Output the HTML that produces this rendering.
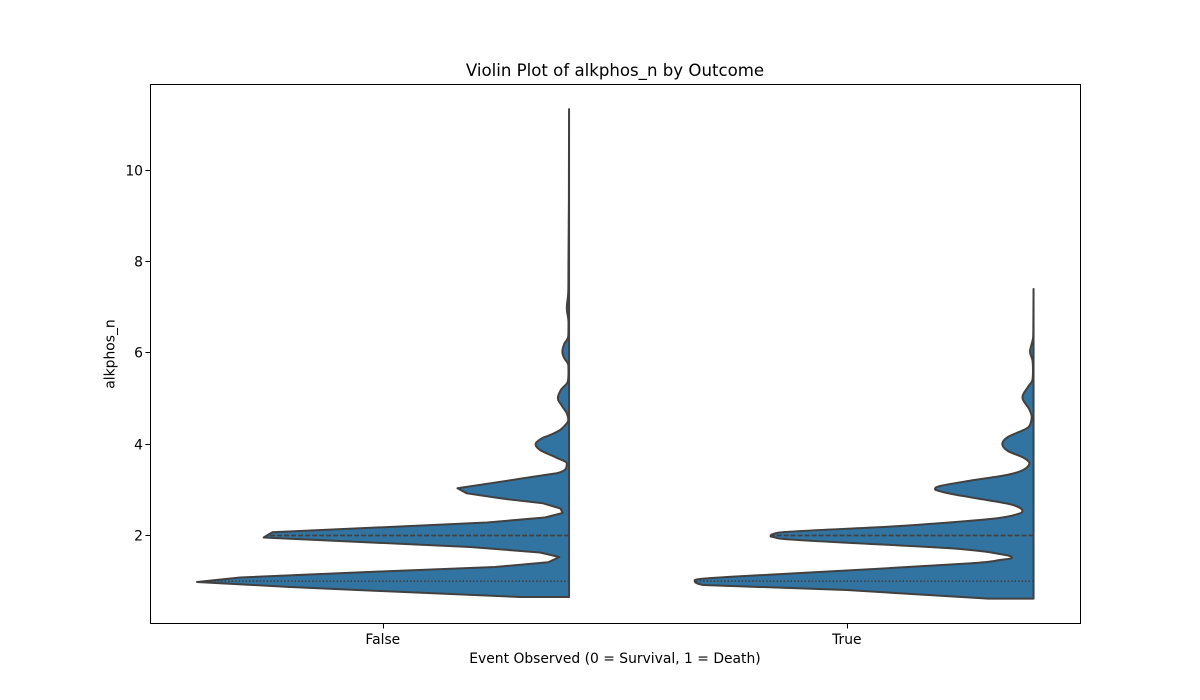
<!DOCTYPE html>
<html>
<head>
<meta charset="utf-8">
<title>Violin Plot of alkphos_n by Outcome</title>
<style>
html,body{margin:0;padding:0;background:#fff;}
svg{display:block;}
text{font-family:"DejaVu Sans","Liberation Sans",sans-serif;fill:#000;}
</style>
</head>
<body>
<svg id="chart" xmlns="http://www.w3.org/2000/svg" width="1200" height="700" viewBox="0 0 1200 700">
  <rect x="0" y="0" width="1200" height="700" fill="#fff"/>
  <g id="violins"></g>
  <g id="axes"></g>
  <text x="615" y="76" font-size="16.6" text-anchor="middle">Violin Plot of alkphos_n by Outcome</text>
  <text x="615" y="663" font-size="13.89" text-anchor="middle">Event Observed (0 = Survival, 1 = Death)</text>
  <text x="0" y="0" font-size="13.89" text-anchor="middle" transform="translate(114.5,354) rotate(-90)">alkphos_n</text>
</svg>
<script>
const categories = ["False", "True"];
const yTicks = [2, 4, 6, 8, 10];

const falseValues = [0.653,0.653,0.784,0.872,0.981,1.08,1.211,1.31,1.413,1.529,1.628,1.748,1.956,2.07,2.285,2.394,2.493,2.591,2.705,2.815,2.924,3.034,3.143,3.275,3.363,3.472,3.582,3.709,3.873,4.004,4.129,4.2,4.311,4.458,4.53,4.677,4.837,5.005,5.187,5.369,5.56,5.735,5.888,6.026,6.195,6.37,6.677,6.984,7.356,8.035,9.35,11.34];
const falseDensity = [0,0.132,0.508,0.75,1,0.884,0.508,0.199,0.056,0.026,0.078,0.266,0.821,0.798,0.22,0.065,0.017,0.023,0.07,0.185,0.275,0.3,0.212,0.105,0.033,0.008,0.006,0.035,0.078,0.09,0.073,0.051,0.024,0.006,0.002,0.006,0.019,0.03,0.022,0.0035,0.0015,0.002,0.013,0.018,0.013,0.002,0.0015,0.006,0.002,0.0015,0.0004,0];
const falseQuartiles = [1.0, 2.0];

const trueValues = [0.616,0.616,0.806,0.916,1.014,1.09,1.233,1.39,1.463,1.512,1.587,1.72,1.939,1.989,2.061,2.208,2.361,2.464,2.543,2.668,2.778,2.903,2.981,3.019,3.084,3.2,3.325,3.435,3.582,3.709,3.851,4.004,4.158,4.348,4.486,4.602,4.771,5.027,5.253,5.406,5.625,5.845,6.03,6.35,6.61,7.4];
const trueDensity = [0,0.1215,0.502,0.888,0.911,0.824,0.502,0.171,0.09,0.058,0.085,0.224,0.687,0.707,0.687,0.359,0.117,0.045,0.03,0.055,0.126,0.216,0.257,0.265,0.251,0.171,0.072,0.028,0.011,0.028,0.069,0.084,0.069,0.018,0.007,0.005,0.012,0.03,0.015,0.003,0.0015,0.003,0.0095,0.001,0.0005,0];
const trueQuartiles = [1.0, 2.0];

const violinSeries = [
  {values: falseValues, density: falseDensity, quartiles: falseQuartiles, smoothFrom: 3.3},
  {values: trueValues, density: trueDensity, quartiles: trueQuartiles, smoothFrom: 0.9}
];

const NS = "http://www.w3.org/2000/svg";
const plot = {left: 151, right: 1080, top: 84.5, bottom: 623.5};
const yDomain = [0.072, 11.88];
const splitOffset = 0.4;
const densityToPx = 372;
const edgeColor = "#414141";

function xScale(position) {
  return plot.left + (position + 0.5) / categories.length * (plot.right - plot.left);
}
function yScale(value) {
  return plot.bottom - (value - yDomain[0]) / (yDomain[1] - yDomain[0]) * (plot.bottom - plot.top);
}
function widthScale(density) {
  return density * densityToPx;
}
function densityAt(series, value) {
  const v = series.values, d = series.density;
  for (let i = 1; i < v.length; i++) {
    if (value >= v[i - 1] && value <= v[i] && v[i] > v[i - 1]) {
      return d[i - 1] + (d[i] - d[i - 1]) * (value - v[i - 1]) / (v[i] - v[i - 1]);
    }
  }
  return 0;
}
function tangentX(prev, cur, next) {
  if ((cur[0] - prev[0]) * (next[0] - cur[0]) <= 0) return 0;
  const a = cur[0] - prev[0], b = next[0] - cur[0];
  const t = (next[0] - prev[0]) / 6;
  const limit = Math.min(Math.abs(a), Math.abs(b));
  return Math.sign(t) * Math.min(Math.abs(t), limit);
}
function outlinePath(series, centerX) {
  const pts = series.values.map((v, i) => [centerX - widthScale(series.density[i]), yScale(v), v]);
  let path = "M" + pts[0][0].toFixed(2) + " " + pts[0][1].toFixed(2);
  for (let i = 1; i < pts.length; i++) {
    const p1 = pts[i - 1], p2 = pts[i];
    if (i >= 2 && p1[2] >= series.smoothFrom && i < pts.length - 1) {
      const p0 = pts[i - 2], p3 = pts[i + 1];
      const c1x = p1[0] + tangentX(p0, p1, p2), c1y = p1[1] + (p2[1] - p0[1]) / 6;
      const c2x = p2[0] - tangentX(p1, p2, p3), c2y = p2[1] - (p3[1] - p1[1]) / 6;
      path += "C" + c1x.toFixed(2) + " " + c1y.toFixed(2) + " " + c2x.toFixed(2) + " " + c2y.toFixed(2) + " " + p2[0].toFixed(2) + " " + p2[1].toFixed(2);
    } else {
      path += "L" + p2[0].toFixed(2) + " " + p2[1].toFixed(2);
    }
  }
  return path + "Z";
}
function make(tag, attrs, parent) {
  const el = document.createElementNS(NS, tag);
  for (const k in attrs) el.setAttribute(k, attrs[k]);
  parent.appendChild(el);
  return el;
}

const violinLayer = document.getElementById("violins");
violinSeries.forEach((series, idx) => {
  const centerX = xScale(idx + splitOffset);
  const body = make("path", {
    d: outlinePath(series, centerX),
    fill: "#3274a1",
    stroke: edgeColor,
    "stroke-width": 2,
    "stroke-linejoin": "round"
  }, violinLayer);
  
  

  series.quartiles.forEach((q, qi) => {
    const line = make("line", {
      x1: centerX,
      x2: centerX - widthScale(densityAt(series, q)),
      y1: yScale(q),
      y2: yScale(q),
      stroke: edgeColor,
      "stroke-width": 1.7,
      "stroke-dasharray": qi === 1 ? "4.9 2.1" : "1.4 2.1"
    }, violinLayer);
    
    
  });
});

const axesLayer = document.getElementById("axes");
const frame = make("rect", {
  x: plot.left - 0.5,
  y: plot.top,
  width: plot.right - plot.left + 1,
  height: plot.bottom - plot.top,
  fill: "none",
  stroke: "#000",
  "stroke-width": 1
}, axesLayer);



yTicks.forEach(t => {
  const y = Math.round(yScale(t) - 0.5) + 0.5;
  const mark = make("line", {x1: plot.left - 5.5, x2: plot.left - 0.5, y1: y, y2: y, stroke: "#000", "stroke-width": 1}, axesLayer);
  
  
  const label = make("text", {x: plot.left - 8, y: y + 5, "font-size": 13.89, "text-anchor": "end"}, axesLayer);
  label.textContent = String(t);
  
  
});

categories.forEach((c, i) => {
  const x = Math.round(xScale(i) - 0.5) + 0.5;
  const mark = make("line", {x1: x, x2: x, y1: plot.bottom, y2: plot.bottom + 5, stroke: "#000", "stroke-width": 1}, axesLayer);
  
  
  const label = make("text", {x: x - 0.7, y: 644, "font-size": 13.89, "text-anchor": "middle"}, axesLayer);
  label.textContent = c;
  
  
});
</script>
</body>
</html>
